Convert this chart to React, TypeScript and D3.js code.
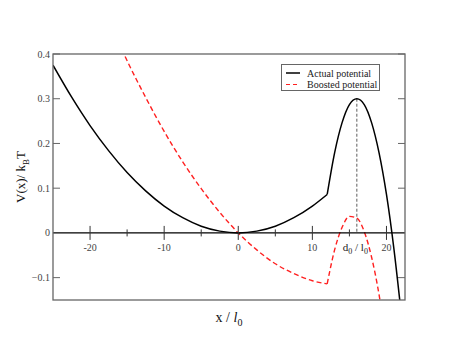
import React, { useRef, useEffect } from 'react';
import * as d3 from 'd3';

// Values (x in units of l0, V in kBT)
const actualWellX = [-25, -22.5, -20, -17.5, -15, -12.5, -10, -7.5, -5, -2.5, 0, 2.5, 5, 7.5, 10, 12];
const actualWellV = [0.375, 0.304, 0.24, 0.184, 0.135, 0.094, 0.06, 0.034, 0.015, 0.004, 0, 0.004, 0.015, 0.034, 0.06, 0.086];
const actualBarrierX = [12, 13, 14, 15, 16, 17, 18, 19, 20, 21, 22];
const actualBarrierV = [0.086, 0.179, 0.246, 0.287, 0.3, 0.287, 0.246, 0.179, 0.086, -0.035, -0.182];

const boostedWellX = [-17.5, -15, -12.5, -10, -7.5, -5, -2.5, 0, 2.5, 5, 7.5, 10, 12];
const boostedWellV = [0.476, 0.385, 0.303, 0.227, 0.159, 0.099, 0.046, 0, -0.038, -0.069, -0.091, -0.107, -0.114];
const boostedBarrierX = [12, 13, 14, 15, 16, 17, 18, 19, 20];
const boostedBarrierV = [-0.114, -0.038, 0.012, 0.037, 0.033, 0.003, -0.055, -0.138, -0.248];

const xMajorTicks = [-20, -10, 0, 10, 20];
const xMinorTicks = [-15, -5, 5, 15];
const yTicks = [-0.1, 0, 0.1, 0.2, 0.3, 0.4];
const barrierPeak = 16;

const legendItems = [
  { label: 'Actual potential', color: '#000', dash: null },
  { label: 'Boosted potential', color: '#ff2020', dash: '4,3' },
];

const zip = (xs: number[], vs: number[]) => xs.map((x, i) => [x, vs[i]] as [number, number]);

const App = () => {
  const svgRef = useRef<SVGSVGElement>(null);

  useEffect(() => {
    const svg = d3.select(svgRef.current);
    svg.selectAll('*').remove();

    const left = 53, right = 405, top = 54, bottom = 300;
    const x = d3.scaleLinear().domain([-25, 22.5]).range([left, right]);
    const y = d3.scaleLinear().domain([-0.15, 0.4]).range([bottom, top]);
    const font = "'Liberation Serif', 'DejaVu Serif', serif";

    svg.append('defs').append('clipPath').attr('id', 'plotclip')
      .append('rect')
      .attr('x', left).attr('y', top)
      .attr('width', right - left).attr('height', bottom - top);

    const line = d3.line<[number, number]>()
      .x(d => x(d[0]))
      .y(d => y(d[1]))
      .curve(d3.curveMonotoneX);

    const plot = svg.append('g').attr('clip-path', 'url(#plotclip)');

    // vertical marker at barrier top
    plot.append('line')
      .attr('x1', x(barrierPeak)).attr('x2', x(barrierPeak))
      .attr('y1', y(0.3)).attr('y2', y(0))
      .attr('stroke', '#333').attr('stroke-width', 0.8)
      .attr('stroke-dasharray', '3,2');

    // zero axis line
    svg.append('line')
      .attr('x1', left).attr('x2', right)
      .attr('y1', y(0)).attr('y2', y(0))
      .attr('stroke', '#000').attr('stroke-width', 1.3);

    [zip(boostedWellX, boostedWellV), zip(boostedBarrierX, boostedBarrierV)].forEach(seg => {
      plot.append('path')
        .attr('d', line(seg))
        .attr('fill', 'none')
        .attr('stroke', '#ff2020')
        .attr('stroke-width', 1.4)
        .attr('stroke-dasharray', '5,3');
    });

    [zip(actualWellX, actualWellV), zip(actualBarrierX, actualBarrierV)].forEach(seg => {
      plot.append('path')
        .attr('d', line(seg))
        .attr('fill', 'none')
        .attr('stroke', '#000')
        .attr('stroke-width', 1.5);
    });

    // frame
    svg.append('rect')
      .attr('x', left).attr('y', top)
      .attr('width', right - left).attr('height', bottom - top)
      .attr('fill', 'none')
      .attr('stroke', '#666').attr('stroke-width', 1.3);

    // x ticks on zero line
    const y0 = y(0);
    xMajorTicks.forEach(t => {
      svg.append('line')
        .attr('x1', x(t)).attr('x2', x(t))
        .attr('y1', y0 - 7).attr('y2', y0 + 7)
        .attr('stroke', '#333').attr('stroke-width', 1);
      svg.append('text')
        .attr('x', x(t)).attr('y', y0 + 18)
        .attr('text-anchor', 'middle')
        .style('font-family', font).style('font-size', '10px')
        .attr('fill', '#444')
        .text(t);
    });
    xMinorTicks.forEach(t => {
      svg.append('line')
        .attr('x1', x(t)).attr('x2', x(t))
        .attr('y1', y0 - 3.5).attr('y2', y0 + 3.5)
        .attr('stroke', '#333').attr('stroke-width', 1);
    });

    // y ticks on both frame sides
    yTicks.forEach(t => {
      if (t !== 0) {
        svg.append('line')
          .attr('x1', left).attr('x2', left + 7)
          .attr('y1', y(t)).attr('y2', y(t))
          .attr('stroke', '#666').attr('stroke-width', 1);
        svg.append('line')
          .attr('x1', right - 7).attr('x2', right)
          .attr('y1', y(t)).attr('y2', y(t))
          .attr('stroke', '#666').attr('stroke-width', 1);
      }
      svg.append('text')
        .attr('x', left - 3).attr('y', y(t) + 3.5)
        .attr('text-anchor', 'end')
        .style('font-family', font).style('font-size', '10px')
        .attr('fill', '#444')
        .text(t === 0 ? '0' : d3.format('.1f')(t));
    });

    // d0 / l0 label
    const dl = svg.append('text')
      .attr('x', x(15.8)).attr('y', y0 + 18)
      .attr('text-anchor', 'middle')
      .style('font-family', font).style('font-size', '11px')
      .attr('fill', '#222');
    dl.append('tspan').text('d');
    dl.append('tspan').attr('dy', 3).style('font-size', '8px').text('0');
    dl.append('tspan').attr('dy', -3).text(' / l');
    dl.append('tspan').attr('dy', 3).style('font-size', '8px').text('0');

    // axis titles
    const xt = svg.append('text')
      .attr('x', (left + right) / 2).attr('y', 322)
      .attr('text-anchor', 'middle')
      .style('font-family', font).style('font-size', '14px')
      .attr('fill', '#111');
    xt.append('tspan').text('x / ');
    xt.append('tspan').style('font-style', 'italic').text('l');
    xt.append('tspan').attr('dy', 4).style('font-size', '10px').text('0');

    const yt = svg.append('text')
      .attr('transform', `translate(25,${(top + bottom) / 2}) rotate(-90)`)
      .attr('text-anchor', 'middle')
      .style('font-family', font).style('font-size', '13px')
      .attr('fill', '#111');
    yt.append('tspan').text('V(x)/ k');
    yt.append('tspan').attr('dy', 4).style('font-size', '9px').text('B');
    yt.append('tspan').attr('dy', -4).text('T');

    // legend
    const lg = svg.append('g');
    lg.append('rect')
      .attr('x', 281.5).attr('y', 64.5)
      .attr('width', 98).attr('height', 26)
      .attr('fill', '#fff')
      .attr('stroke', '#666').attr('stroke-width', 1);
    legendItems.forEach((item, i) => {
      const ly = 73 + i * 11.5;
      lg.append('line')
        .attr('x1', 286).attr('x2', 300)
        .attr('y1', ly).attr('y2', ly)
        .attr('stroke', item.color)
        .attr('stroke-width', item.dash ? 1 : 1.5)
        .attr('stroke-dasharray', item.dash);
      lg.append('text')
        .attr('x', 307).attr('y', ly + 3.5)
        .style('font-family', font).style('font-size', '10px')
        .attr('fill', '#222')
        .text(item.label);
    });
  }, []);

  return <svg ref={svgRef} width={458} height={354} style={{ position: 'absolute', left: 0, top: 0, background: '#fff' }} />;
};

export default App;
